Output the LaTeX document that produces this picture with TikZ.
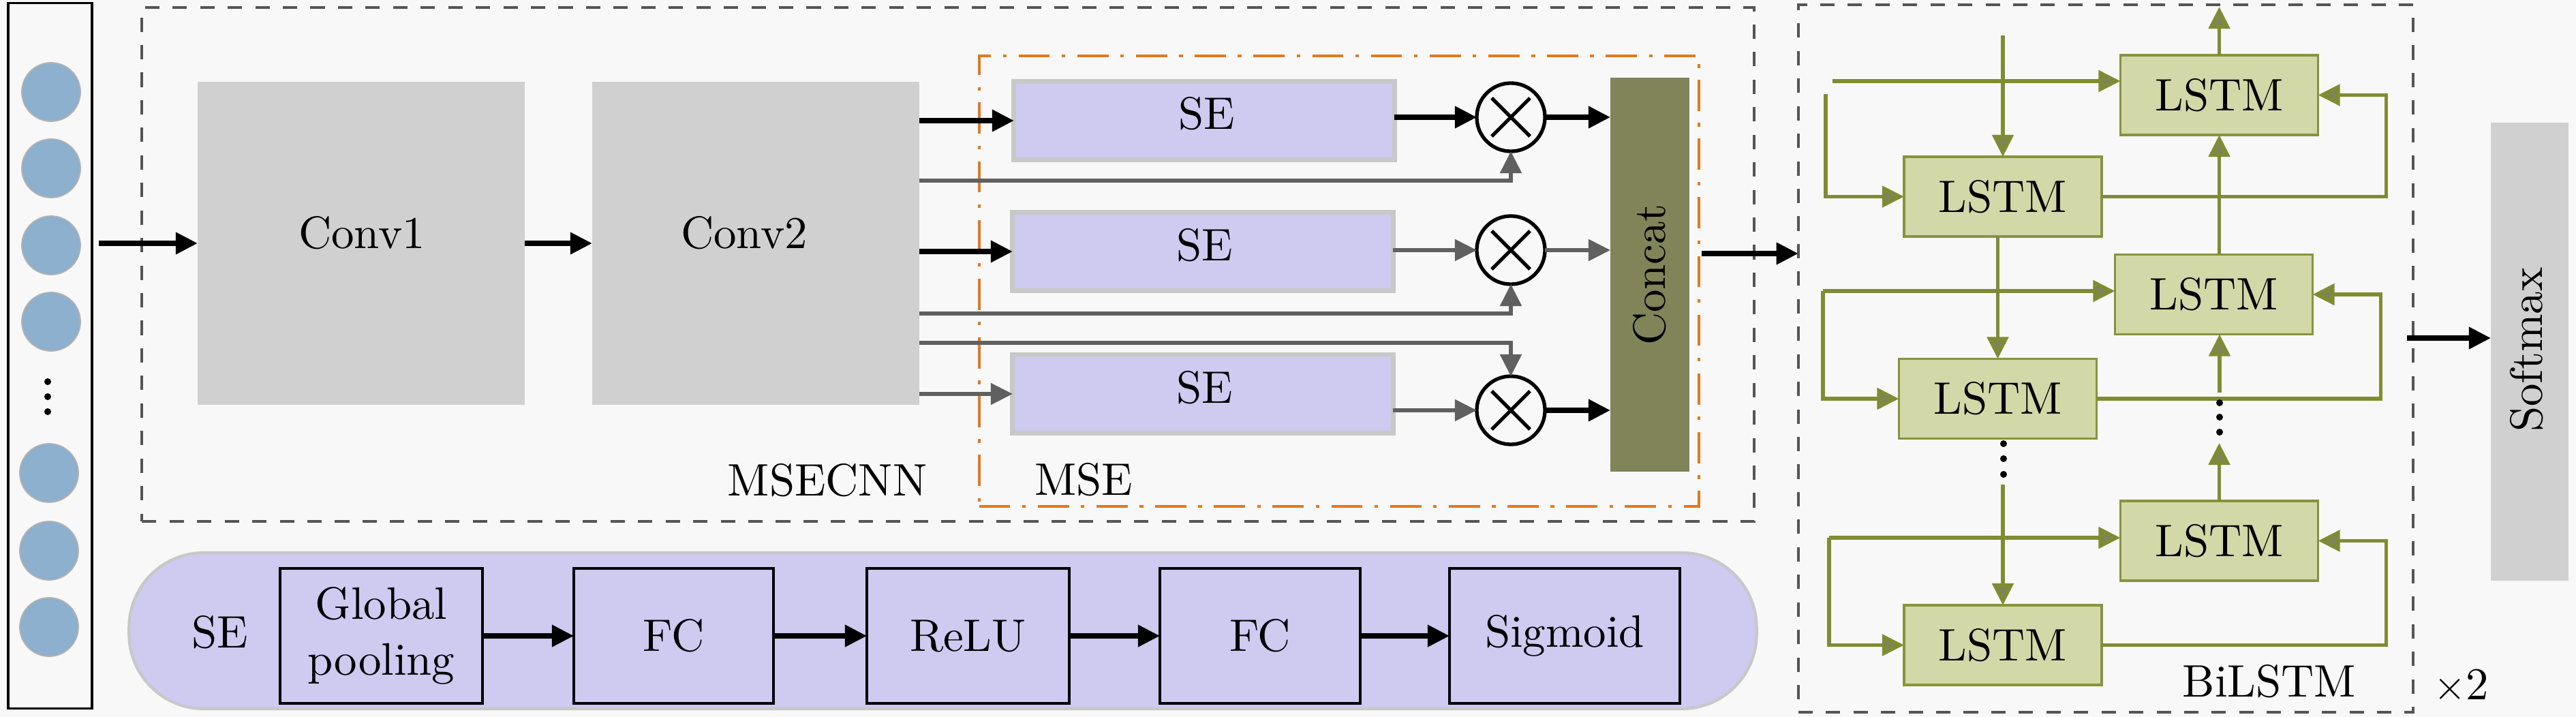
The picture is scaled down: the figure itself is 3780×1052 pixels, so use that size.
\documentclass[tikz,border=0pt]{standalone}
\usepackage{fontspec}
\setmainfont{lmroman10-regular.otf}
\usetikzlibrary{arrows.meta,calc}
\definecolor{bgc}{RGB}{248,248,248}
\definecolor{convgray}{RGB}{208,208,208}
\definecolor{lav}{RGB}{206,202,240}
\definecolor{segray}{RGB}{200,200,200}
\definecolor{incol}{RGB}{140,176,206}
\definecolor{dashgray}{RGB}{85,85,85}
\definecolor{msecol}{RGB}{224,122,32}
\definecolor{linegray}{RGB}{96,96,96}
\definecolor{concatc}{RGB}{128,132,88}
\definecolor{lstmfill}{RGB}{211,216,168}
\definecolor{lstmedge}{RGB}{135,148,60}
\definecolor{olvline}{RGB}{128,140,50}
\definecolor{olvtip}{RGB}{125,133,85}
\tikzset{
  box/.style={rectangle, inner sep=0pt, outer sep=0pt},
  convbox/.style={box, fill=convgray, minimum width=4.8cm, minimum height=4.74cm},
  sebox/.style={box, fill=lav, draw=segray, line width=2pt, minimum width=5.58cm, minimum height=1.14cm},
  otimes/.style={circle, draw=black, line width=1.5pt, fill=bgc, minimum size=1.0cm, inner sep=0pt, outer sep=0pt,
    path picture={\draw[black,line width=1.5pt]
      ([shift={(-0.28cm,-0.28cm)}]path picture bounding box.center) -- ([shift={(0.28cm,0.28cm)}]path picture bounding box.center)
      ([shift={(-0.28cm,0.28cm)}]path picture bounding box.center) -- ([shift={(0.28cm,-0.28cm)}]path picture bounding box.center);}},
  lstm/.style={box, fill=lstmfill, draw=lstmedge, line width=1pt, minimum width=2.9cm, minimum height=1.17cm},
  pbox/.style={box, fill=lav, draw=black, line width=1pt, minimum height=1.98cm},
  dashbox/.style={box, draw=dashgray, line width=1.2pt, dash pattern=on 6pt off 5.5pt},
  incirc/.style={circle, fill=incol, draw=gray!60, line width=0.5pt, minimum size=0.86cm, inner sep=0pt},
  blk/.style={draw=black, line width=2pt, -{Triangle[length=0.32cm,width=0.31cm]}},
  gry/.style={draw=linegray, line width=1.5pt, -{Triangle[length=0.32cm,width=0.31cm]}},
  olv/.style={draw=olvline, line width=1.5pt, -{Triangle[length=0.32cm,width=0.31cm,fill=olvtip]}},
  txt/.style={inner sep=0pt, outer sep=0pt},
}
\begin{document}
\begin{tikzpicture}[x=0.01cm,y=-0.01cm,font=\fontsize{19}{23}\selectfont]
\useasboundingbox (0,0) rectangle (3780,1052);
\fill[bgc] (0,0) rectangle (3780,1052);

% input column
\node[box, draw=black, line width=1pt, minimum width=1.23cm, minimum height=10.34cm] (inbox) at (73.5,522) {};
\foreach \i/\x/\y in {1/75/135,2/75/247,3/75/360,4/75/472,5/72/694,6/72/808,7/72/920}
  \node[incirc] (in\i) at (\x,\y) {};
\foreach \y in {560,582,604} \fill (70,\y) circle[radius=0.05cm];

% MSECNN
\node[dashbox, minimum width=23.64cm, minimum height=7.54cm] (msecnn) at (1391,388) {};
\node[txt] (msecnnt) at (1214,705) {MSECNN};
\node[convbox] (conv1) at (530,357) {};
\node[txt] (conv1t) at (531,342) {Conv1};
\node[convbox] (conv2) at (1109,357) {};
\node[txt] (conv2t) at (1092,342) {Conv2};
\coordinate (inout) at (145,357);
\draw[blk] (inout) -- (inout -| conv1.west);
\draw[blk] (conv1.east) -- (conv2.west);

% MSE
\node[box, draw=msecol, line width=1.2pt, dash pattern=on 13pt off 5pt on 1.5pt off 5pt, minimum width=10.56cm, minimum height=6.61cm] (mse) at (1965,412.5) {};
\node[txt] (mset) at (1590,704) {MSE};
\node[sebox] (se1) at (1767,177) {};
\node[txt] (se1t) at (1771,167) {SE};
\node[sebox] (se2) at (1765,369) {};
\node[txt] (se2t) at (1768,360) {SE};
\node[sebox] (se3) at (1765,578) {};
\node[txt] (se3t) at (1768,569) {SE};
\node[otimes] (ot1) at (2217,172) {};
\node[otimes] (ot2) at (2217,367) {};
\node[otimes] (ot3) at (2217,602) {};
\node[box, fill=concatc, minimum width=1.16cm, minimum height=5.78cm] (concat) at (2421,403) {};
\node[txt, rotate=90] (concatt) at (2421,403) {Concat};

\draw[blk] (conv2.east |- se1.west) -- (se1.west);
\draw[blk] (conv2.east |- se2.west) -- (se2.west);
\draw[gry] (conv2.east |- se3.west) -- (se3.west);
\coordinate (g1) at (1349,265);
\coordinate (g2) at (1349,460);
\coordinate (g3) at (1349,503);
\draw[gry] (g1) -| (ot1.south);
\draw[gry] (g2) -| (ot2.south);
\draw[gry] (g3) -| (ot3.north);
\draw[blk] (se1.east |- ot1.west) -- (ot1.west);
\draw[gry] (se2.east |- ot2.west) -- (ot2.west);
\draw[gry] (se3.east |- ot3.west) -- (ot3.west);
\draw[blk] (ot1.east) -- (ot1.east -| concat.west);
\draw[gry] (ot2.east) -- (ot2.east -| concat.west);
\draw[blk] (ot3.east) -- (ot3.east -| concat.west);

% BiLSTM
\node[dashbox, minimum width=9.02cm, minimum height=10.38cm] (bilstm) at (3090,526) {};
\node[txt] (bilstmt) at (3330,1000) {BiLSTM};
\node[txt] (times) at (3612,1007) {$\times$2};
\coordinate (cc) at (2497,372);
\draw[blk] (cc) -- (cc -| bilstm.west);

\node[lstm] (R1) at (3256.5,139.5) {LSTM};
\node[lstm] (L1) at (2939,288.5) {LSTM};
\node[lstm] (R2) at (3248.5,432) {LSTM};
\node[lstm] (L2) at (2931.5,585) {LSTM};
\node[lstm] (R3) at (3256.5,793.5) {LSTM};
\node[lstm] (L3) at (2939,946.5) {LSTM};

\coordinate (tin) at (2939,52);
\draw[olv] (tin) -- (L1.north);
\coordinate (h1) at (2689,119);
\draw[olv] (h1) -- (h1 -| R1.west);
\coordinate (lp1) at (2679,138);
\draw[olv] (lp1) |- (L1.west);
\draw[olv] (L1.east) -| ([xshift=1cm]R1.east) -- (R1.east);
\coordinate (out) at (3256.5,10);
\draw[olv] (R1.north) -- (out);

\draw[olv] (L2.north |- L1.south) -- (L2.north);
\coordinate (lp2) at (2675,427);
\draw[olv] (lp2) -- (lp2 -| R2.west);
\draw[olv] (lp2) |- (L2.west);
\draw[olv] (L2.east) -| ([xshift=1cm]R2.east) -- (R2.east);
\draw[olv] (R1.south |- R2.north) -- (R1.south);
\coordinate (rd1) at (3257,576);
\draw[olv] (rd1) -- (rd1 |- R2.south);
\foreach \y in {591,612,634} \fill (3257,\y) circle[radius=0.05cm];
\coordinate (rd2) at (3256.5,650);
\draw[olv] (R3.north) -- (rd2);
\foreach \y in {651,673,696} \fill (2940,\y) circle[radius=0.05cm];
\coordinate (ld) at (2939,711);
\draw[olv] (ld) -- (L3.north);
\coordinate (lp3) at (2684,789);
\draw[olv] (lp3) -- (lp3 -| R3.west);
\draw[olv] (lp3) |- (L3.west);
\draw[olv] (L3.east) -| ([xshift=1cm]R3.east) -- (R3.east);

% Softmax
\node[box, fill=convgray, minimum width=1.14cm, minimum height=6.72cm] (softmax) at (3712,516) {};
\node[txt, rotate=90] (softmaxt) at (3708,513) {Softmax};
\coordinate (sm) at (3532,496);
\draw[blk] (sm) -- (sm -| softmax.west);

% SE pill
\node[box, fill=lav, draw=segray, line width=1.2pt, rounded corners=1.1cm, minimum width=23.87cm, minimum height=2.29cm] (pill) at (1383.5,925.5) {};
\node[txt] (pillt) at (323,928) {SE};
\node[pbox, minimum width=2.97cm] (gp) at (559.5,933) {};
\node[txt, align=center, font=\fontsize{19}{23.3}\selectfont] (gpt) at (559.5,933) {Global\\pooling};
\node[pbox, minimum width=2.93cm] (fc1) at (988.5,933) {FC};
\node[pbox, minimum width=2.97cm] (relu) at (1420.5,933) {ReLU};
\node[pbox, minimum width=2.94cm] (fc2) at (1849,933) {FC};
\node[pbox, minimum width=3.38cm] (sig) at (2296,933) {Sigmoid};
\draw[blk] (gp.east) -- (fc1.west);
\draw[blk] (fc1.east) -- (relu.west);
\draw[blk] (relu.east) -- (fc2.west);
\draw[blk] (fc2.east) -- (sig.west);
\end{tikzpicture}
\end{document}
